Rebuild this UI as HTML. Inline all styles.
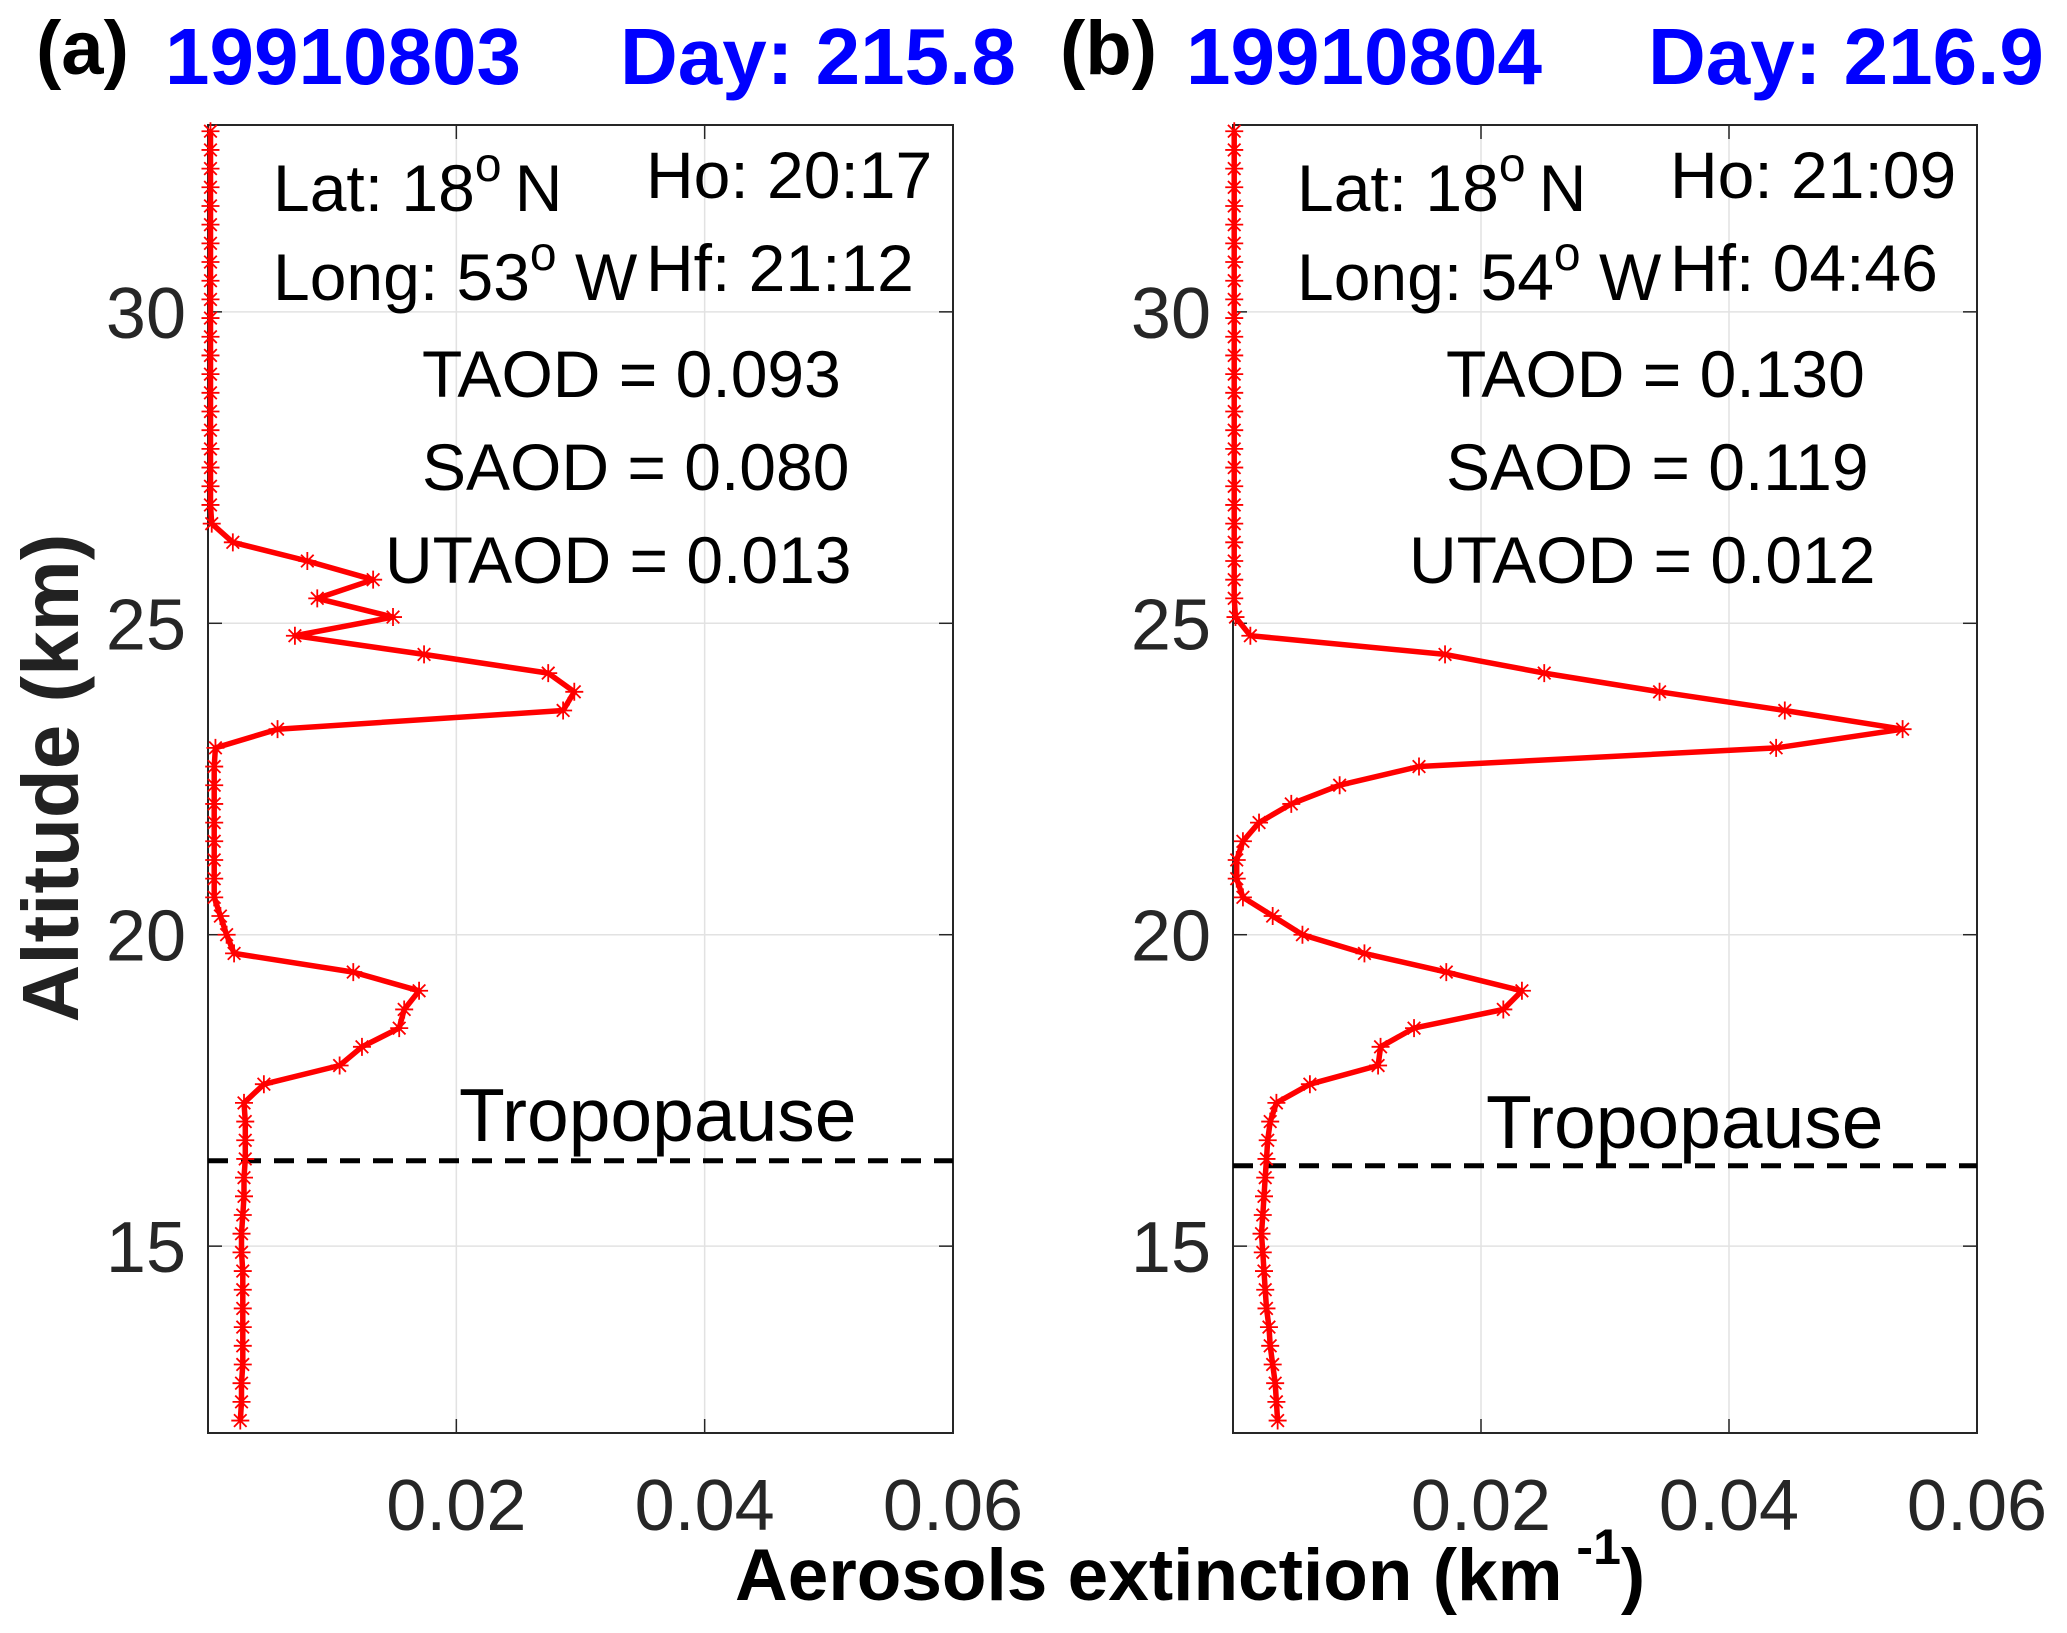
<!DOCTYPE html>
<html><head><meta charset="utf-8"><style>
html,body{margin:0;padding:0;background:#fff}
svg{display:block;font-family:"Liberation Sans",sans-serif}
</style></head><body>
<svg id="fig" width="2067" height="1633" viewBox="0 0 2067 1633" xmlns="http://www.w3.org/2000/svg">
<g>
<text x="36" y="74" font-size="76" font-weight="bold" fill="#000">(a)</text>
<text x="165" y="84" font-size="80" font-weight="bold" fill="#0000ff">19910803</text>
<text x="620" y="84" font-size="80" font-weight="bold" fill="#0000ff">Day: 215.8</text>
</g>
<g>
<text x="1060" y="74" font-size="76" font-weight="bold" fill="#000">(b)</text>
<text x="1186" y="84" font-size="80" font-weight="bold" fill="#0000ff">19910804</text>
<text x="1648" y="84" font-size="80" font-weight="bold" fill="#0000ff">Day: 216.9</text>
</g>
<g id="pa"></g>
<g id="pb"></g>
<text transform="translate(78,778) rotate(-90)" text-anchor="middle" font-size="80" font-weight="bold" fill="#222">Altitude (km)</text>
<text x="735" y="1600" font-size="73" font-weight="bold" fill="#000">Aerosols extinction (km<tspan dy="-36" font-size="50"> -1</tspan><tspan dy="36">)</tspan></text>
</svg>
<script>
const altitudes=[12.2,12.5,12.8,13.1,13.4,13.7,14.0,14.3,14.6,14.9,15.2,15.5,15.8,16.1,16.4,16.7,17.0,17.3,17.6,17.9,18.2,18.5,18.8,19.1,19.4,19.7,20.0,20.3,20.6,20.9,21.2,21.5,21.8,22.1,22.4,22.7,23.0,23.3,23.6,23.9,24.2,24.5,24.8,25.1,25.4,25.7,26.0,26.3,26.6,26.9,27.2,27.5,27.8,28.1,28.4,28.7,29.0,29.3,29.6,29.9,30.2,30.5,30.8,31.1,31.4,31.7,32.0,32.3,32.6,32.9];
const extA=[0.0026,0.0027,0.0027,0.0028,0.0028,0.0028,0.0028,0.0028,0.0028,0.0027,0.0027,0.0028,0.0029,0.0029,0.0030,0.0030,0.0030,0.0029,0.0045,0.0106,0.0124,0.0154,0.0158,0.0170,0.0117,0.0021,0.0015,0.0010,0.0005,0.0005,0.0005,0.0005,0.0005,0.0005,0.0005,0.0005,0.0006,0.0056,0.0286,0.0295,0.0274,0.0174,0.0070,0.0149,0.0088,0.0133,0.0080,0.0020,0.0003,0.0002,0.0002,0.0002,0.0002,0.0002,0.0002,0.0002,0.0002,0.0002,0.0002,0.0002,0.0002,0.0002,0.0002,0.0002,0.0002,0.0002,0.0002,0.0002,0.0002,0.0002];
const extB=[0.0036,0.0035,0.0034,0.0032,0.0030,0.0029,0.0027,0.0026,0.0025,0.0024,0.0023,0.0024,0.0025,0.0026,0.0027,0.0028,0.0030,0.0035,0.0062,0.0117,0.0119,0.0146,0.0218,0.0233,0.0172,0.0106,0.0056,0.0032,0.0008,0.0003,0.0003,0.0008,0.0021,0.0047,0.0086,0.0150,0.0438,0.0540,0.0445,0.0344,0.0251,0.0171,0.0014,0.0002,0.0001,0.0001,0.0001,0.0001,0.0001,0.0001,0.0001,0.0001,0.0001,0.0001,0.0001,0.0001,0.0001,0.0001,0.0001,0.0001,0.0001,0.0001,0.0001,0.0001,0.0001,0.0001,0.0001,0.0001,0.0001,0.0001];
const xTicks=[0.02,0.04,0.06];
const xTickLabels=["0.02","0.04","0.06"];
const yTicks=[15,20,25,30];
const yTickLabels=["15","20","25","30"];
const tropA=16.37, tropB=16.29;
const NS="http://www.w3.org/2000/svg";
function mk(parent,tag,attrs,text){const e=document.createElementNS(NS,tag);for(const k in attrs)e.setAttribute(k,attrs[k]);if(text!==undefined)e.textContent=text;parent.appendChild(e);return e;}
function panel(g,L,R,ext,trop,lines,tropLabel,key){
  const T=125,B=1433,xmin=0,xmax=0.06,ymin=12,ymax=33;
  const X=v=>L+(v-xmin)/(xmax-xmin)*(R-L);
  const Y=v=>B-(v-ymin)/(ymax-ymin)*(B-T);
  xTicks.forEach((t,i)=>{
    const gl=mk(g,'line',{x1:X(t),x2:X(t),y1:T,y2:B,stroke:'#e2e2e2','stroke-width':1.5});
    
    
    mk(g,'line',{x1:X(t),x2:X(t),y1:B,y2:B-14,stroke:'#262626','stroke-width':1.5});
    mk(g,'line',{x1:X(t),x2:X(t),y1:T,y2:T+14,stroke:'#262626','stroke-width':1.5});
    const tl=mk(g,'text',{x:X(t),y:1530,'text-anchor':'middle','font-size':72,fill:'#262626'},xTickLabels[i]);
    
    
  });
  yTicks.forEach((t,i)=>{
    const gl=mk(g,'line',{x1:L,x2:R,y1:Y(t),y2:Y(t),stroke:'#e2e2e2','stroke-width':1.5});
    
    
    mk(g,'line',{x1:L,x2:L+14,y1:Y(t),y2:Y(t),stroke:'#262626','stroke-width':1.5});
    mk(g,'line',{x1:R,x2:R-14,y1:Y(t),y2:Y(t),stroke:'#262626','stroke-width':1.5});
    const tl=mk(g,'text',{x:L-22,y:Y(t)+26,'text-anchor':'end','font-size':72,fill:'#262626'},yTickLabels[i]);
    
    
  });
  const box=mk(g,'rect',{x:L,y:T,width:R-L,height:B-T,fill:'none',stroke:'#262626','stroke-width':2});
  
  
  const tr=mk(g,'line',{x1:L,x2:R,y1:Y(trop),y2:Y(trop),stroke:'#000','stroke-width':5,'stroke-dasharray':'20 13'});
  
  
  const tt=mk(g,'text',{x:tropLabel[0],y:tropLabel[1],'font-size':75,fill:'#000'},'Tropopause');
  
  
  const pts=altitudes.map((a,i)=>X(ext[i]).toFixed(1)+','+Y(a).toFixed(1)).join(' ');
  const pl=mk(g,'polyline',{points:pts,fill:'none',stroke:'#ff0000','stroke-width':5.5,'stroke-linejoin':'round'});
  
  
  altitudes.forEach((a,i)=>{
    const cx=X(ext[i]),cy=Y(a),r=9;
    const m=mk(g,'path',{d:`M${cx-r},${cy}H${cx+r}M${cx},${cy-r}V${cy+r}M${cx-r*0.7},${cy-r*0.7}L${cx+r*0.7},${cy+r*0.7}M${cx-r*0.7},${cy+r*0.7}L${cx+r*0.7},${cy-r*0.7}`,stroke:'#ff0000','stroke-width':1.8,fill:'none'});
    
    
  });
  lines.forEach(l=>{
    const t=mk(g,'text',{x:l[0],y:l[1],'font-size':66,fill:'#000'});
    t.innerHTML=l[2];
    
    
  });
}
const deg='<tspan dy="-30" font-size="48">o</tspan><tspan dy="30"> </tspan>';
panel(document.getElementById('pa'),208,953,extA,tropA,[
 [273,211,'Lat: 18'+deg.replace('> <','>\u2009<')+'N'],
 [646,198,'Ho: 20:17'],
 [273,300,'Long: 53'+deg+'W'],
 [646,291,'Hf: 21:12'],
 [422,397,'TAOD = 0.093'],
 [422,490,'SAOD = 0.080'],
 [385,583,'UTAOD = 0.013']
],[459,1141],'a');
panel(document.getElementById('pb'),1233,1977,extB,tropB,[
 [1297,211,'Lat: 18'+deg.replace('> <','>\u2009<')+'N'],
 [1670,198,'Ho: 21:09'],
 [1297,300,'Long: 54'+deg+'W'],
 [1670,291,'Hf: 04:46'],
 [1446,397,'TAOD = 0.130'],
 [1446,490,'SAOD = 0.119'],
 [1409,583,'UTAOD = 0.012']
],[1486,1148],'b');
</script>
</body></html>
